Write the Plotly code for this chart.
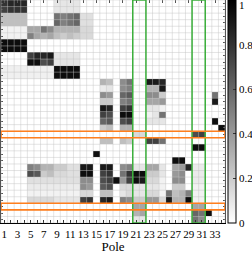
import plotly.graph_objects as go

poles = list(range(1, 35))
row_ids = list(range(1, 35))
xtick_vals = list(range(1, 34, 2))
cbar_ticks = [0, 0.2, 0.4, 0.6, 0.8, 1]
cbar_text = ["0", "0.2", "0.4", "0.6", "0.8", "1"]
highlight_poles = [(21, 22), (30, 31)]
highlight_rows = [21, 32]

O = 0
z = [
    [.80,.85,.85,.85, O,O,O,O, .10,.10,.10,.10, O,O,O, O,O,O, O,O, O,O, O,O,O, O,O,O,O, O,O, O,O,O],
    [.75,.80,.80,.80, O,O,O,O, .10,.10,.10,.10, O,O,O, O,O,O, O,O, O,O, O,O,O, O,O,O,O, O,O, O,O,O],
    [.25,.25,.25,.25, O,O,O,O, .55,.50,.55,.60, .12,.12,O, O,O,O, O,O, O,O, O,O,O, O,O,O,O, O,O, O,O,O],
    [.25,.25,.25,.25, O,O,O,O, .60,.50,.55,.60, .12,.12,O, O,O,O, O,O, O,O, O,O,O, O,O,O,O, O,O, O,O,O],
    [.05,.05,.05,.05, .35,.35,.55,.45, .30,.30,.30,.30, .15,.15,O, O,O,O, O,O, O,O, O,O,O, O,O,O,O, O,O, O,O,O],
    [.05,.05,.05,.05, .50,.35,.30,.35, .25,.20,.25,.20, .15,.15,O, O,O,O, O,O, O,O, O,O,O, O,O,O,O, O,O, O,O,O],
    [.95,.95,.95,.95, O,O,O,O, O,O,O,O, O,O,O, O,O,O, O,O, O,O, O,O,O, O,O,O,O, O,O, O,O,O],
    [.95,.95,.95,.95, O,O,O,O, O,O,O,O, O,O,O, O,O,O, O,O, O,O, O,O,O, O,O,O,O, O,O, O,O,O],
    [O,O,O,O, .75,.85,.85,.90, .10,.10,.10,.10, O,O,O, O,O,O, O,O, O,O, O,O,O, O,O,O,O, O,O, O,O,O],
    [O,O,O,O, .95,.95,.70,.75, .10,.10,.10,.10, O,O,O, O,O,O, O,O, O,O, O,O,O, O,O,O,O, O,O, O,O,O],
    [.06,.06,.06,.06, .06,.06,.06,.06, .95,.95,.95,.95, O,O,O, O,O,O, O,O, O,O, O,O,O, O,O,O,O, O,O, O,O,O],
    [.06,.06,.06,.06, .06,.06,.06,.06, .95,.95,.95,.95, O,O,O, O,O,O, O,O, O,O, O,O,O, O,O,O,O, O,O, O,O,O],
    [O,O,O,O, O,O,O,O, O,O,O,O, O,O,O, .30,.25,O, .45,.55, O,O, .90,.90,.85, O,O,O,O, O,O, O,O,O],
    [O,O,O,O, O,O,O,O, O,O,O,O, O,O,O, .08,.10,O, .45,.50, O,O, .30,.30,.90, O,O,O,O, O,O, O,O,O],
    [O,O,O,O, O,O,O,O, O,O,O,O, O,O,O, .45,.40,O, .60,.65, O,O, .45,.45,.20, O,O,O,O, O,O, O,.55,O],
    [O,O,O,O, O,O,O,O, O,O,O,O, O,O,O, .20,.20,O, .50,.55, O,O, .35,.35,.40, O,O,O,O, O,O, O,.90,O],
    [O,O,O,O, O,O,O,O, O,O,O,O, O,O,O, .90,.85,O, .75,.80, O,O, .10,.10,.05, O,O,O,O, O,O, O,O,O],
    [O,O,O,O, O,O,O,O, O,O,O,O, O,O,O, .75,.70,O, .95,.95, O,O, .05,.10,.55, O,O,O,O, O,O, O,O,O],
    [O,O,O,O, O,O,O,O, O,O,O,O, O,O,O, .60,.65,O, .70,.75, O,O, .10,.10,.10, O,O,O,O, O,O, O,.95,O],
    [O,O,O,O, O,O,O,O, O,O,O,O, O,O,O, .20,.25,O, .30,.30, O,O, O,O,O, O,O,O,O, O,O, O,O,.95],
    [O,O,O,O, O,O,O,O, O,O,O,O, O,O,O, O,O,O, O,O, .15,.15, O,O,O, O,O,O,O, .70,.75, O,O,O],
    [O,O,O,O, O,O,O,O, O,O,O,O, O,O,O, .25,.25,O, .25,.20, O,O, .75,.75,.55, O,O,O,O, O,O, O,O,O],
    [O,O,O,O, O,O,O,O, O,O,O,O, O,O,O, O,O,O, O,O, O,O, O,O,O, O,O,O,O, .95,.95, O,O,O],
    [O,O,O,O, O,O,O,O, O,O,O,O, O,O,.95, O,O,O, O,O, O,O, O,O,O, O,O,O,O, O,O, O,O,O],
    [O,O,O,O, O,O,O,O, O,O,O,O, O,O,O, O,O,O, O,O, O,O, O,O,O, O,.95,.95,O, O,O, O,O,O],
    [O,O,O,O, .50,.45,.30,.30, .20,.20,.12,.12, .90,.90,O, .90,.90,O, .45,.50, .10,.10, .35,.35,.10, O,.35,.40,.85, .08,.08, O,O,O],
    [O,O,O,O, .70,.65,.20,.25, .15,.15,.12,.12, .95,.95,O, .75,.80,O, .55,.80, .95,.95, .20,.20,.10, O,.40,.45,O, .08,.08, O,O,O],
    [O,O,O,O, .12,.12,.12,.12, .12,.12,.12,.12, .45,.45,O, .70,.75,.95, .40,.75, .95,.90, .15,.15,.05, O,.45,.45,O, .08,.08, O,O,O],
    [O,O,O,O, .08,.08,.08,.08, .08,.08,.08,.08, .45,.40,O, .65,.70,O, .15,.15, .10,.10, .10,.10,.05, O,.20,.20,O, .05,.05, O,O,O],
    [O,O,O,O, .05,.05,.05,.05, .05,.05,.05,.05, .15,.15,O, .25,.25,O, .10,.15, .10,.10, .15,.15,.05, .55,.25,.30,.50, .05,.05, O,O,O],
    [O,O,O,O, .15,.15,.15,.15, .10,.10,.10,.10, .75,.80,O, .85,.90,O, .50,.45, .20,.20, .40,.40,.15, .90,.30,.30,.95, .05,.05, O,O,O],
    [O,O,O,O, O,O,O,O, O,O,O,O, O,O,O, O,O,O, O,O, .35,.35, O,O,O, O,O,O,O, .35,.35, O,O,O],
    [O,O,O,O, O,O,O,O, O,O,O,O, O,O,O, O,O,O, O,O, .30,.35, O,O,O, O,O,O,O, .60,.55, .95,O,O],
    [O,O,O,O, O,O,O,O, O,O,O,O, O,O,O, O,O,O, O,O, .10,.10, O,O,O, O,O,O,O, .55,.45, O,O,O],
]

FONT = "Liberation Serif"
n_x = len(poles)
n_y = len(row_ids)

fig = go.Figure()
fig.add_trace(go.Heatmap(
    z=z, x=poles, y=row_ids,
    colorscale=[[0, "#ffffff"], [1, "#000000"]], zmin=0, zmax=1,
    colorbar=dict(
        thickness=8, thicknessmode="pixels",
        len=1, lenmode="fraction", y=0.5, yanchor="middle",
        x=1.0134, xanchor="left", xpad=0, ypad=0,
        outlinewidth=1, outlinecolor="black",
        tickvals=cbar_ticks, showticklabels=False,
        ticks="inside", ticklen=3, tickcolor="#333",
    ),
    hoverinfo="skip",
))
fig.add_trace(go.Scatter(x=[], y=[], xaxis="x2", yaxis="y", showlegend=False))

shapes = []
grid_col = "rgba(195,195,195,0.45)"
for i in range(n_x + 1):
    shapes.append(dict(type="line", xref="x", yref="y", x0=0.5 + i, x1=0.5 + i,
                       y0=0.5, y1=n_y + 0.5, line=dict(color=grid_col, width=1), layer="above"))
for j in range(n_y + 1):
    shapes.append(dict(type="line", xref="x", yref="y", x0=0.5, x1=n_x + 0.5,
                       y0=0.5 + j, y1=0.5 + j, line=dict(color=grid_col, width=1), layer="above"))
for a, b in highlight_poles:
    shapes.append(dict(type="rect", xref="x", yref="y", x0=a - 0.5, x1=b + 0.5,
                       y0=0.5, y1=n_y + 0.5, line=dict(color="rgb(60,175,60)", width=1.5),
                       layer="above"))
for r in highlight_rows:
    shapes.append(dict(type="rect", xref="x", yref="y", x0=0.5, x1=n_x + 0.5,
                       y0=r - 0.5, y1=r + 0.5, line=dict(color="rgb(255,127,30)", width=1.6),
                       layer="above"))

annotations = []
for v, t in zip(cbar_ticks, cbar_text):
    annotations.append(dict(
        x=1.055, y=v, xref="paper", yref="paper", text=t, showarrow=False,
        xanchor="left", yanchor="top" if v == 1 else "middle",
        font=dict(family=FONT, size=11, color="black"),
        xshift=0, yshift=3 if v == 1 else 0,
    ))

fig.update_layout(
    width=252, height=254, autosize=False,
    margin=dict(l=1, r=27, t=0, b=31),
    paper_bgcolor="white", plot_bgcolor="white",
    shapes=shapes, annotations=annotations,
    font=dict(family=FONT, size=11, color="black"),
    xaxis=dict(
        range=[0.5, n_x + 0.5], tickvals=poles,
        ticktext=[str(p) if p in xtick_vals else "" for p in poles],
        tickangle=0,
        ticks="inside", ticklen=3, tickcolor="#333", showgrid=False, zeroline=False,
        showline=True, linecolor="black", linewidth=1, mirror=False,
        tickfont=dict(family=FONT, size=11), ticklabelstandoff=1,
        title=dict(text="Pole", font=dict(family=FONT, size=13), standoff=8),
        automargin=False,
    ),
    xaxis2=dict(
        range=[0.5, n_x + 0.5], overlaying="x", side="top", tickvals=xtick_vals,
        ticks="inside", ticklen=3, tickcolor="#555", showticklabels=False,
        showgrid=False, zeroline=False, showline=False, automargin=False,
    ),
    yaxis=dict(
        range=[n_y + 0.5, 0.5], tickvals=row_ids, showticklabels=False,
        ticks="inside", ticklen=2, tickcolor="#555", showgrid=False, zeroline=False,
        showline=True, linecolor="#555", linewidth=1, mirror="ticks", automargin=False,
    ),
)

fig.write_html("out.html", config={"displayModeBar": False},
               post_script="document.body.style.margin='0px';")
